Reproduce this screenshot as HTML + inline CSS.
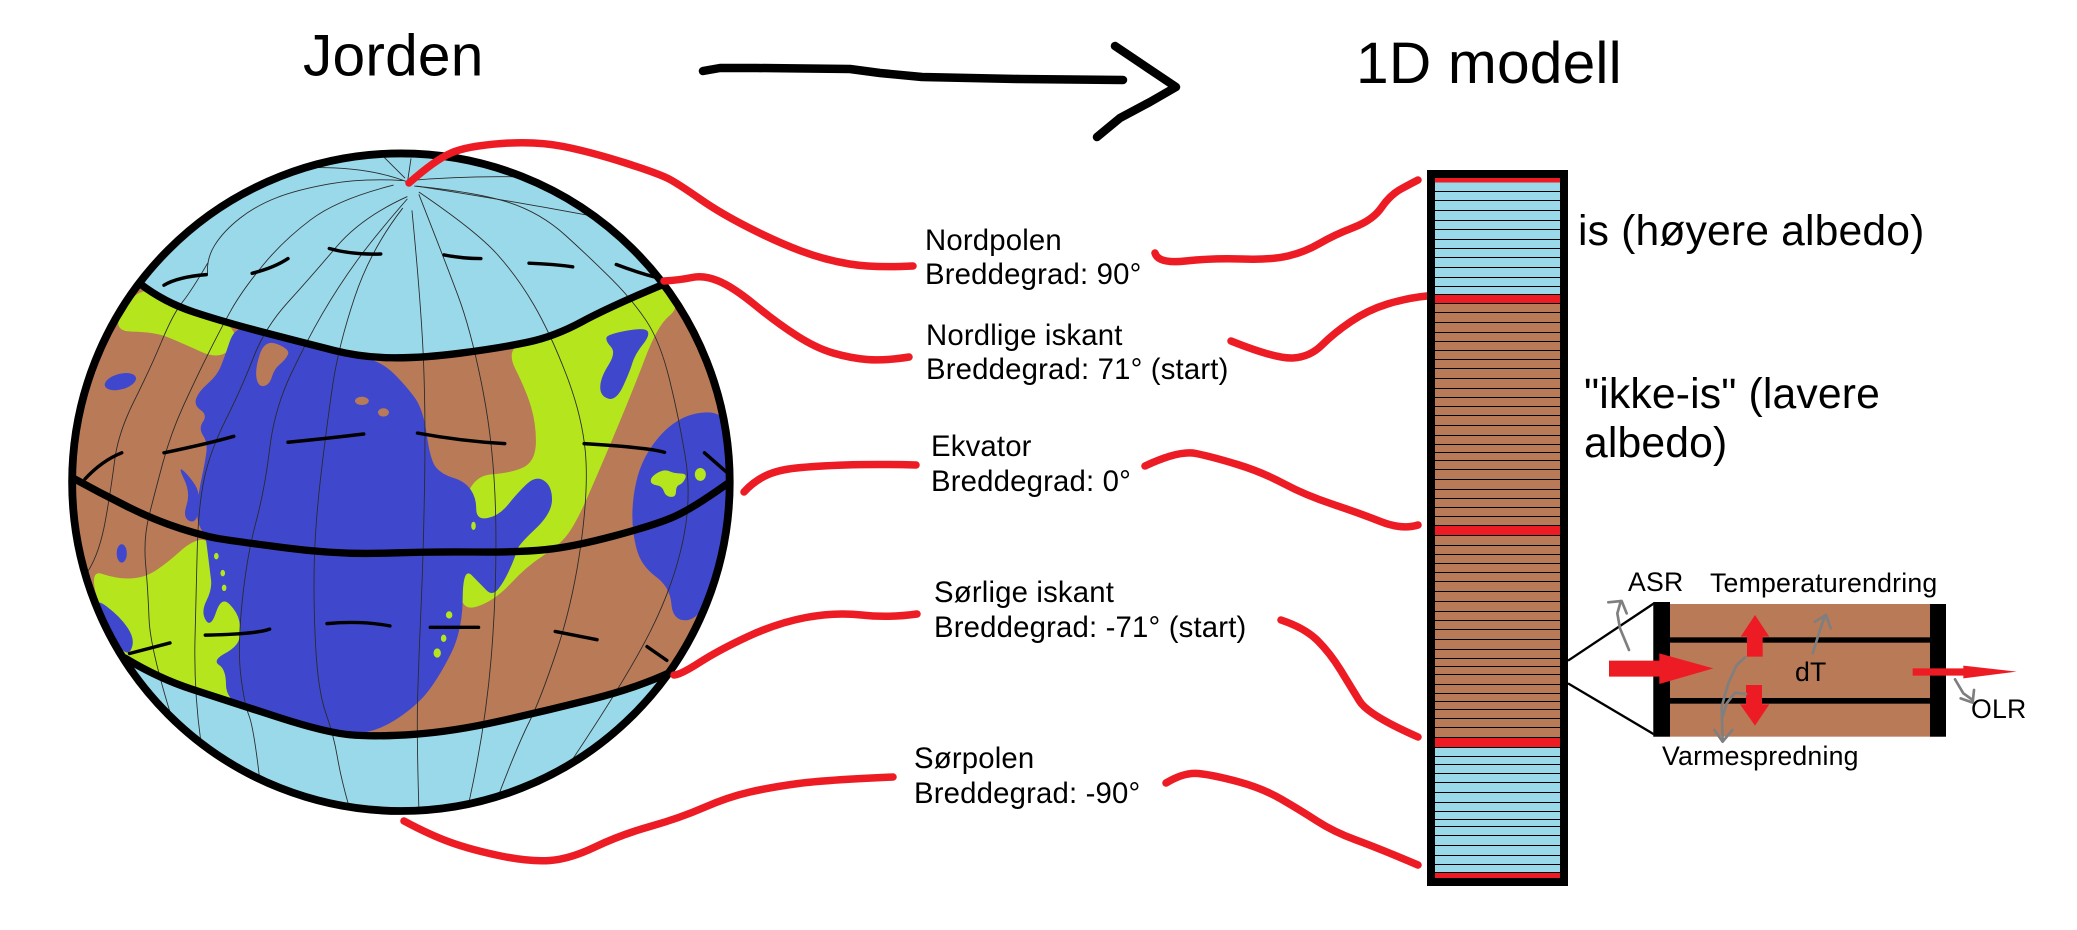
<!DOCTYPE html>
<html lang="no">
<head>
<meta charset="utf-8">
<title>Jorden til 1D modell</title>
<style>
html,body{margin:0;padding:0;background:#fff;}
svg{display:block;}
text{font-family:"Liberation Sans",Arial,sans-serif;fill:#000;}
.head{font-size:58.67px;letter-spacing:.2px;}
.lab{font-size:29.33px;letter-spacing:.17px;}
.big{font-size:42.67px;letter-spacing:.15px;}
.small{font-size:26.67px;letter-spacing:.22px;}
.red{fill:none;stroke:#ed1c24;stroke-width:7.5;stroke-linecap:round;stroke-linejoin:round;}
.mer{fill:none;stroke:#2a2a2a;stroke-width:1.9;stroke-linejoin:round;}
.dash{fill:none;stroke:#000;stroke-width:7.5;stroke-linecap:round;stroke-linejoin:round;}
.edge{fill:none;stroke:#000;stroke-width:16;stroke-linecap:round;stroke-linejoin:round;}
.grey{fill:none;stroke:#7f7f7f;stroke-width:8;stroke-linecap:round;stroke-linejoin:round;}
</style>
</head>
<body>
<svg width="2077" height="930" viewBox="0 0 2077 930" xmlns="http://www.w3.org/2000/svg">
<defs>
<clipPath id="globe-clip"><circle cx="786" cy="767" r="716"/></clipPath>
</defs>
<rect width="2077" height="930" fill="#fff"/>

<text class="head" x="303" y="75.5">Jorden</text>
<text class="head" x="1356" y="83">1D modell</text>

<g fill="none" stroke="#000" stroke-width="8.5" stroke-linecap="round" stroke-linejoin="round">
<polyline points="703,71 720,68 757,68 850,69 880,73 922,77 1019,79 1123,80"/>
<polyline points="1115,46 1176,87 1150,102 1120,118 1097,137"/>
</g>

<g transform="translate(40 130) scale(.4592)">
<g clip-path="url(#globe-clip)">
<circle cx="786" cy="767" r="716" fill="#99d9ea"/>
<polygon class="region" fill="#b97a57" points="218,335 270,375 400,418 580,465 700,495 830,497 1000,475 1120,450 1240,385 1360,335 1560,335 1560,1180 1375,1180 1300,1215 1100,1265 900,1310 730,1322 620,1312 400,1240 260,1195 185,1150 0,1150 0,335"/>
<polygon class="region" fill="#b5e61d" points="218,335 150,438 250,440 300,460 400,505 440,430 300,380"/>
<polygon class="region" fill="#b5e61d" points="1010,470 1120,445 1240,380 1360,330 1395,385 1345,425 1290,570 1210,760 1165,860 1130,905 1060,950 990,1025 915,1050 915,950 925,755 1040,745 1080,715 1080,640 1060,570"/>
<polygon class="region" fill="#b5e61d" points="100,955 170,978 230,975 280,940 330,895 370,890 445,1000 445,1255 400,1240 260,1195 170,1150"/>
<polygon class="region" fill="#3f48cc" points="425,425 400,500 385,535 345,570 335,600 365,620 345,650 365,680 360,720 345,790 340,850 360,885 362,895 370,960 375,1000 350,1050 372,1085 395,1015 430,1050 438,1090 430,1125 375,1155 405,1175 405,1240 480,1275 620,1312 725,1316 820,1255 870,1190 920,1090 921,950 960,990 985,1015 1010,985 1035,930 1040,905 1115,835 1115,775 1080,752 1040,790 1000,840 950,850 950,800 925,765 875,750 850,720 835,610 800,560 740,500 650,490 570,460 480,445"/>
<polygon class="region" fill="#3f48cc" points="1420,615 1490,615 1520,700 1510,900 1440,1065 1378,1070 1372,995 1310,950 1290,880 1290,800 1310,720 1360,650"/>
<polygon class="region" fill="#3f48cc" points="1235,445 1315,430 1330,445 1295,490 1285,525 1255,590 1220,580 1220,540 1255,485 1232,460"/>
<polygon class="region" fill="#3f48cc" points="300,732 322,750 350,790 342,858 310,845 328,790"/>
<polygon class="region" fill="#3f48cc" points="115,1015 175,1060 208,1110 190,1150 150,1090"/>
<ellipse fill="#3f48cc" cx="175" cy="548" rx="35" ry="17" transform="rotate(-15 175 548)"/>
<ellipse fill="#3f48cc" cx="178" cy="922" rx="11" ry="20"/>
<polygon class="region" fill="#b97a57" points="490,455 545,478 535,500 510,520 500,555 475,560 468,520"/>
<ellipse fill="#b97a57" cx="701" cy="590" rx="15" ry="9"/>
<ellipse fill="#b97a57" cx="748" cy="615" rx="12" ry="9"/>
<polygon class="region" fill="#b5e61d" points="1330,755 1360,738 1380,748 1410,748 1400,770 1385,775 1385,800 1362,798 1355,775 1330,772"/>
<ellipse fill="#b5e61d" cx="1438" cy="750" rx="12" ry="14"/>
<g fill="#b5e61d">
<ellipse cx="944" cy="862" rx="5" ry="9"/>
<ellipse cx="384" cy="928" rx="5" ry="7"/>
<ellipse cx="398" cy="965" rx="5" ry="7"/>
<ellipse cx="401" cy="997" rx="5" ry="7"/>
<ellipse cx="891" cy="1056" rx="7" ry="8"/>
<ellipse cx="879" cy="1107" rx="6" ry="8"/>
<ellipse cx="865" cy="1139" rx="8" ry="10"/>
</g>
<g>
<polyline class="mer" points="805,115 720,80 590,82"/>
<polyline class="mer" points="790,110 700,105 560,130 470,165 400,220 362,280 365,315"/>
<polyline class="mer" points="365,290 330,350 290,400 240,520 170,660 155,780 130,920 105,960"/>
<polyline class="mer" points="770,120 650,150 530,240 440,350 395,430 340,540 285,660 250,790 225,890 235,1000 240,1130 290,1290"/>
<polyline class="mer" points="800,145 700,190 590,320 490,430 440,560 370,700 345,820 340,1000 335,1220 350,1330"/>
<polyline class="mer" points="800,150 730,230 650,340 580,460 510,610 490,780 450,930 430,1130 445,1250 465,1300 478,1410"/>
<polyline class="mer" points="790,170 720,260 650,470 625,640 600,850 595,1020 605,1220 640,1320 655,1410 672,1470"/>
<polyline class="mer" points="810,175 830,380 840,620 835,920 825,1150 820,1310 825,1475"/>
<polyline class="mer" points="825,140 880,280 940,440 990,700 995,1000 970,1300 935,1460"/>
<polyline class="mer" points="825,135 950,220 1040,320 1110,440 1180,620 1195,780 1160,1030 1090,1240 1040,1340 1000,1445"/>
<polyline class="mer" points="815,122 950,135 1090,180 1200,280 1290,370 1350,460 1390,620 1420,800 1380,990 1280,1190 1160,1370"/>
<polyline class="mer" points="820,122 1000,150 1190,185"/>
<polyline class="mer" points="805,110 920,100 1040,102"/>
<polyline class="mer" points="808,62 800,115"/>
<polyline class="mer" points="750,60 795,105"/>
</g>
<g>
<polyline class="dash" points="270,338 300,320 362,315"/>
<polyline class="dash" points="462,312 510,300 540,280"/>
<polyline class="dash" points="630,258 680,272 742,270"/>
<polyline class="dash" points="880,272 920,280 960,280"/>
<polyline class="dash" points="1065,290 1120,292 1160,298"/>
<polyline class="dash" points="1255,293 1300,310 1345,322"/>
<polyline class="dash" points="98,760 135,720 178,703"/>
<polyline class="dash" points="270,703 370,682 422,667"/>
<polyline class="dash" points="540,680 640,670 705,662"/>
<polyline class="dash" points="822,660 920,678 1012,683"/>
<polyline class="dash" points="1185,683 1330,692 1360,702"/>
<polyline class="dash" points="1447,703 1495,745"/>
<polyline class="dash" points="195,1140 283,1117"/>
<polyline class="dash" points="360,1100 470,1098 500,1087"/>
<polyline class="dash" points="625,1075 700,1068 762,1080"/>
<polyline class="dash" points="850,1083 955,1083"/>
<polyline class="dash" points="1122,1092 1213,1110"/>
<polyline class="dash" points="1322,1125 1365,1155"/>
</g>
<polyline class="edge" points="218,335 270,375 400,418 580,465 700,495 830,497 1000,475 1120,450 1240,385 1360,335"/>
<polyline class="edge" points="70,757 130,790 250,850 360,885 420,895 650,925 850,918 1040,920 1160,908 1340,860 1420,825 1497,770"/>
<polyline class="edge" points="185,1150 260,1195 400,1240 620,1312 730,1322 900,1310 1100,1265 1300,1215 1375,1180"/>
</g>
<circle cx="786" cy="767" r="716" fill="none" stroke="#000" stroke-width="17"/>
</g>

<g>
<polyline class="red" points="409,183 435,160 467,146 536,141 591,152 660,174 680,185 720,213 777,242 825,260 874,268 913,266"/>
<polyline class="red" points="1155,253 1158,264 1213,258 1271,260 1305,252 1334,235 1373,220 1390,195 1412,183 1418,180"/>
<polyline class="red" points="664,281 680,280 704,275 733,287 777,323 816,348 850,358 884,361 909,357"/>
<polyline class="red" points="1231,341 1276,359 1310,357 1334,333 1368,310 1407,298 1427,296"/>
<polyline class="red" points="744,492 753,482 777,470 816,466 874,464 916,465"/>
<polyline class="red" points="1145,466 1179,450 1213,457 1262,472 1305,495 1359,513 1402,530 1418,525"/>
<polyline class="red" points="674,675 680,675 719,650 777,623 835,612 888,618 917,614"/>
<polyline class="red" points="1281,620 1305,628 1330,653 1351,687 1368,715 1418,737"/>
<polyline class="red" points="404,821 430,835 472,850 530,862 570,859 620,835 680,818 728,797 772,787 825,780 893,777"/>
<polyline class="red" points="1166,783 1184,772 1213,775 1262,788 1300,810 1334,832 1378,848 1418,865"/>
</g>

<g>
<text class="lab" x="925" y="250">Nordpolen</text>
<text class="lab" x="925" y="284">Breddegrad: 90°</text>
<text class="lab" x="926" y="345">Nordlige iskant</text>
<text class="lab" x="926" y="379">Breddegrad: 71° (start)</text>
<text class="lab" x="931" y="456">Ekvator</text>
<text class="lab" x="931" y="491">Breddegrad: 0°</text>
<text class="lab" x="934" y="602">Sørlige iskant</text>
<text class="lab" x="934" y="637">Breddegrad: -71° (start)</text>
<text class="lab" x="914" y="768">Sørpolen</text>
<text class="lab" x="914" y="803">Breddegrad: -90°</text>
</g>

<g>
<rect x="1427" y="170" width="141" height="716" fill="#000"/>
<rect x="1435" y="178" width="125" height="694" fill="#b97a57"/>
<rect x="1435" y="178" width="125" height="117" fill="#99d9ea"/>
<rect x="1435" y="747" width="125" height="125" fill="#99d9ea"/>
<rect x="1435" y="178" width="125" height="4.5" fill="#ed1c24"/>
<rect x="1435" y="295" width="125" height="8.5" fill="#ed1c24"/>
<rect x="1435" y="526" width="125" height="9.5" fill="#ed1c24"/>
<rect x="1435" y="738" width="125" height="9.5" fill="#ed1c24"/>
<rect x="1435" y="872.5" width="125" height="5.5" fill="#ed1c24"/>
<path fill="none" stroke="#000" stroke-width="1" shape-rendering="crispEdges" d="M1435 191.5H1560M1435 200.5H1560M1435 210.5H1560M1435 220.5H1560M1435 229.5H1560M1435 239.5H1560M1435 248.5H1560M1435 257.5H1560M1435 267.5H1560M1435 277.5H1560M1435 286.5H1560M1435 294.5H1560M1435 303.5H1560M1435 312.5H1560M1435 322.5H1560M1435 332.5H1560M1435 341.5H1560M1435 350.5H1560M1435 359.5H1560M1435 368.5H1560M1435 378.5H1560M1435 388.5H1560M1435 397.5H1560M1435 406.5H1560M1435 415.5H1560M1435 425.5H1560M1435 435.5H1560M1435 444.5H1560M1435 452.5H1560M1435 460.5H1560M1435 469.5H1560M1435 479.5H1560M1435 489.5H1560M1435 498.5H1560M1435 507.5H1560M1435 516.5H1560M1435 525.5H1560M1435 535.5H1560M1435 545.5H1560M1435 554.5H1560M1435 563.5H1560M1435 572.5H1560M1435 581.5H1560M1435 591.5H1560M1435 601.5H1560M1435 611.5H1560M1435 620.5H1560M1435 629.5H1560M1435 639.5H1560M1435 649.5H1560M1435 658.5H1560M1435 666.5H1560M1435 674.5H1560M1435 684.5H1560M1435 693.5H1560M1435 701.5H1560M1435 709.5H1560M1435 718.5H1560M1435 727.5H1560M1435 737.5H1560M1435 747.5H1560M1435 756.5H1560M1435 764.5H1560M1435 773.5H1560M1435 782.5H1560M1435 792.5H1560M1435 802.5H1560M1435 811.5H1560M1435 819.5H1560M1435 826.5H1560M1435 835.5H1560M1435 845.5H1560M1435 855.5H1560M1435 864.5H1560M1435 872.5H1560"/>
</g>

<text class="big" x="1578" y="245">is (høyere albedo)</text>
<text class="big" x="1584" y="408">"ikke-is" (lavere</text>
<text class="big" x="1584" y="457">albedo)</text>

<g transform="translate(1540 550) scale(.33333)">
<line x1="84" y1="332" x2="342" y2="160" stroke="#000" stroke-width="7"/>
<line x1="84" y1="400" x2="342" y2="553" stroke="#000" stroke-width="7"/>
<rect x="340" y="162" width="878" height="398" fill="#b97a57"/>
<rect x="340" y="156" width="50" height="404" fill="#000"/>
<rect x="1170" y="162" width="48" height="398" fill="#000"/>
<rect x="390" y="262" width="780" height="16" fill="#000"/>
<rect x="390" y="444" width="780" height="17" fill="#000"/>
<polygon fill="#ed1c24" points="207,332 358,332 358,310 520,355 358,402 358,380 207,380"/>
<polygon fill="#ed1c24" points="621,320 668,320 668,260 688,260 645,195 602,260 621,260"/>
<polygon fill="#ed1c24" points="618,405 666,405 666,463 688,463 645,527 600,463 618,463"/>
<polygon fill="#ed1c24" points="1118,355 1270,355 1270,347 1430,365 1270,385 1270,377 1118,377"/>
<polyline class="grey" points="267,300 240,235 232,190 242,155"/>
<polyline class="grey" points="205,157 245,153 260,190"/>
<polyline class="grey" points="818,310 840,240 855,197"/>
<polyline class="grey" points="825,215 858,195 872,235"/>
<polyline class="grey" points="615,322 590,345 565,400 545,470 548,572"/>
<polyline class="grey" points="618,432 585,428 560,460 548,500"/>
<polyline class="grey" points="523,540 548,575 577,540"/>
<polyline class="grey" points="1245,388 1270,430 1298,450"/>
<polyline class="grey" points="1302,420 1298,458 1262,445"/>
</g>
<text class="small" x="1628" y="591">ASR</text>
<text class="small" x="1710" y="592">Temperaturendring</text>
<text class="small" x="1795" y="681">dT</text>
<text class="small" x="1971" y="718">OLR</text>
<text class="small" x="1662" y="765">Varmespredning</text>
</svg>
<script>
// Round off the hand-drawn strokes and map regions so they read as freehand curves.
var SVG_NS = 'http://www.w3.org/2000/svg';
function readPoints(el) {
  return el.getAttribute('points').trim().split(/\s+/).map(function (p) {
    return p.split(',').map(Number);
  });
}
function mid(a, b) {
  return ((a[0] + b[0]) / 2) + ' ' + ((a[1] + b[1]) / 2);
}
function openCurve(p) {
  var d = 'M' + p[0].join(' ');
  if (p.length === 2) { return d + 'L' + p[1].join(' '); }
  for (var i = 1; i < p.length - 2; i++) {
    d += 'Q' + p[i].join(' ') + ' ' + mid(p[i], p[i + 1]);
  }
  return d + 'Q' + p[p.length - 2].join(' ') + ' ' + p[p.length - 1].join(' ');
}
function closedCurve(p) {
  var n = p.length;
  var d = 'M' + mid(p[n - 1], p[0]);
  for (var i = 0; i < n; i++) {
    d += 'Q' + p[i].join(' ') + ' ' + mid(p[i], p[(i + 1) % n]);
  }
  return d + 'Z';
}
document.querySelectorAll('polyline.red,polyline.mer,polyline.dash,polyline.edge,polygon.region').forEach(function (el) {
  var path = document.createElementNS(SVG_NS, 'path');
  var pts = readPoints(el);
  path.setAttribute('d', el.tagName === 'polygon' ? closedCurve(pts) : openCurve(pts));
  path.setAttribute('class', el.getAttribute('class'));
  if (el.hasAttribute('fill')) { path.setAttribute('fill', el.getAttribute('fill')); }
  
  
  el.parentNode.replaceChild(path, el);
});
</script>
</body>
</html>
